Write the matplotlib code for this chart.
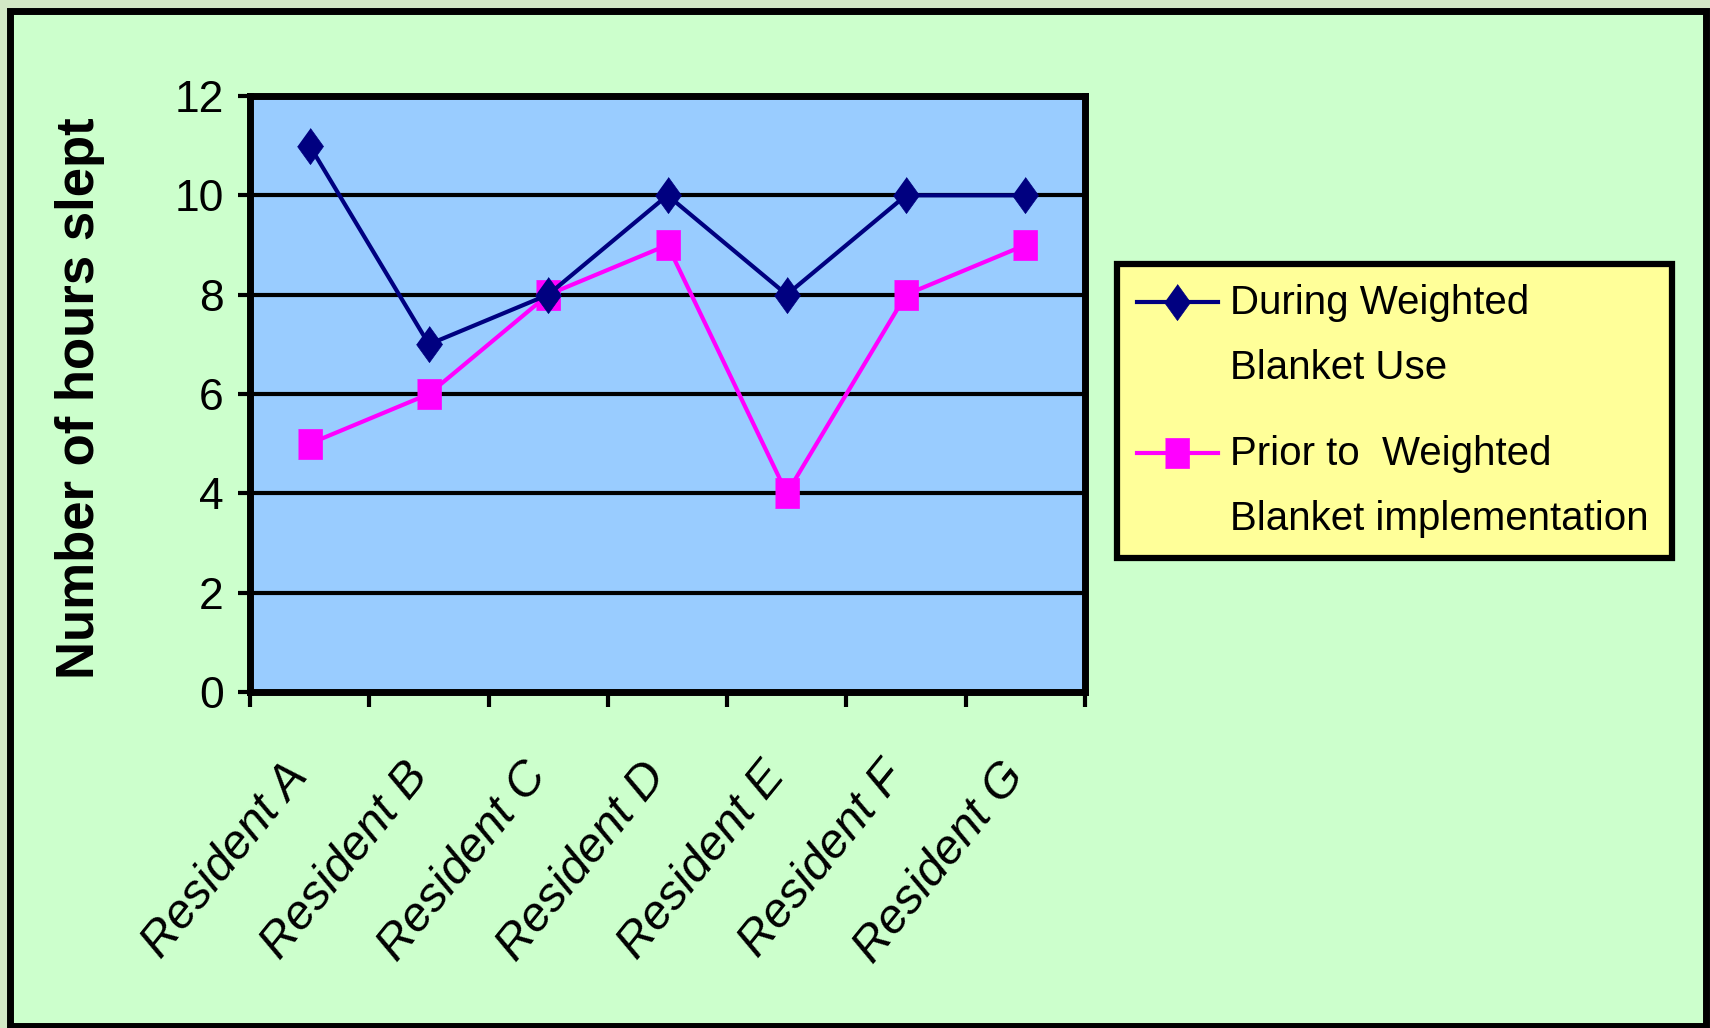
import numpy as np
import matplotlib
matplotlib.use("Agg")
import matplotlib.pyplot as plt
import matplotlib.transforms as mtransforms
from matplotlib.patches import Rectangle
from matplotlib.font_manager import FontProperties
from matplotlib.legend_handler import HandlerLine2D

# data
residents = ["Resident A", "Resident B", "Resident C", "Resident D",
             "Resident E", "Resident F", "Resident G"]
during_use = [11, 7, 8, 10, 8, 10, 10]
prior_use = [5, 6, 8, 9, 4, 8, 9]
y_ticks = [0, 2, 4, 6, 8, 10, 12]
series_labels = ["During Weighted\nBlanket Use",
                 "Prior to  Weighted\nBlanket implementation"]

FONT = "Liberation Sans"
LEG_FS = 29


class FirstLineHandler(HandlerLine2D):
    # put the legend line next to the first line of a two-line label
    def create_artists(self, legend, orig_handle, xdescent, ydescent,
                       width, height, fontsize, trans):
        arts = super().create_artists(legend, orig_handle, xdescent, ydescent,
                                      width, height, fontsize, trans)
        for a in arts:
            a.set_ydata(np.asarray(a.get_ydata(), dtype=float) + 0.86 * fontsize)
        return arts


W, H = 1710, 1028
fig = plt.figure(figsize=(W / 100, H / 100), dpi=100)
fig.patch.set_facecolor("#d3e8c6")

# green panel with black frame
fig.add_artist(Rectangle((10 / W, 1 - 1026 / H), (1706 - 10) / W, (1026 - 11) / H,
                         transform=fig.transFigure, facecolor="#ccffcc",
                         edgecolor="black", lw=5, zorder=-1))

ax = fig.add_axes([250 / W, 1 - 692 / H, (1085 - 250) / W, (692 - 96) / H])
ax.set_facecolor("#99ccff")

x = np.arange(len(residents)) + 0.5
diamond = [(0, 1), (0.72, 0), (0, -1), (-0.72, 0)]
square = [(-0.78, -1), (0.78, -1), (0.78, 1), (-0.78, 1)]

l1, = ax.plot(x, during_use, color="#000080", lw=3, marker=diamond, ms=26,
              mfc="#000080", mec="#000080", mew=0.5, zorder=4)
l2, = ax.plot(x, prior_use, color="#ff00ff", lw=3, marker=square, ms=22,
              mfc="#ff00ff", mec="#ff00ff", mew=0.5, zorder=3)

ax.set_xlim(0, len(residents))
ax.set_ylim(0, 12)
ax.set_yticks(y_ticks)
ax.set_yticklabels([str(v) for v in y_ticks], fontsize=32, family=FONT)
ax.yaxis.grid(True, color="black", lw=3)
ax.set_axisbelow(True)

ax.set_xticks(np.arange(len(residents) + 1))
ax.set_xticklabels([])
ax.set_xticks(x, minor=True)
ax.set_xticklabels(residents, minor=True, rotation=51, ha="right", va="top",
                   rotation_mode="anchor", fontsize=35, fontstyle="italic",
                   family=FONT)
ax.tick_params(axis="x", which="major", direction="out", length=11, width=3)
ax.tick_params(axis="x", which="minor", length=0, pad=45)
ax.tick_params(axis="y", direction="out", length=9, width=3, pad=10)

# nudge the slanted labels left so their ends sit under the points
shift = mtransforms.ScaledTranslation(-27 / 100, 0, fig.dpi_scale_trans)
for lab in ax.get_xticklabels(minor=True):
    lab.set_transform(lab.get_transform() + shift)

for s in ax.spines.values():
    s.set_linewidth(5)
    s.set_color("black")

fig.text(80 / W, 1 - 398 / H, "Number of hours slept", rotation=90,
         ha="center", va="center", fontsize=38, fontweight="bold",
         family=FONT)

leg = fig.legend([l1, l2], series_labels, loc="center",
                 bbox_to_anchor=(1117 / W, 1 - 565 / H, (1672 - 1117) / W, (565 - 257) / H),
                 mode="expand", prop=FontProperties(family=FONT, size=LEG_FS),
                 fancybox=False, facecolor="#ffff99", edgecolor="black",
                 framealpha=1, handlelength=2.0, handletextpad=0.3,
                 labelspacing=1.2, borderpad=0.5, borderaxespad=0,
                 handler_map={l1: FirstLineHandler(), l2: FirstLineHandler()})
leg.get_frame().set_linewidth(4.5)
for t in leg.get_texts():
    t.set_linespacing(1.9)

fig.savefig("out.png", dpi=100, facecolor=fig.get_facecolor())
